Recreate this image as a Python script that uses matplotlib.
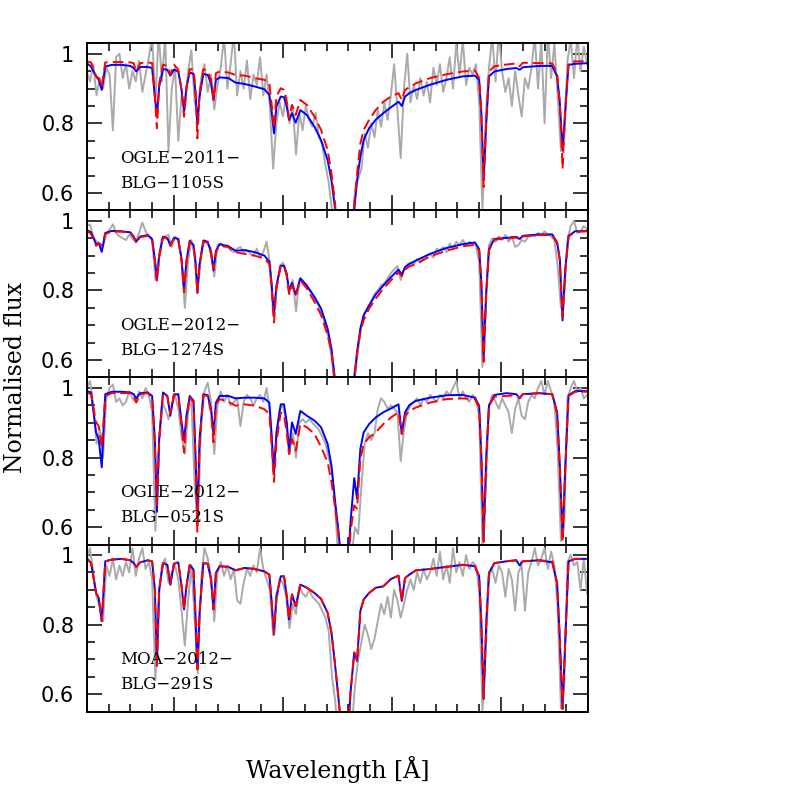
import numpy as np
import matplotlib
matplotlib.use('Agg')
import matplotlib.pyplot as plt
from matplotlib.ticker import MultipleLocator, FixedLocator

# model wavelength grid (Angstrom) shared by all synthetic spectra
MODEL_WL = [6542.0, 6542.4, 6542.86, 6543.1, 6543.38, 6543.7, 6544.3, 6545.2, 6546.0, 6546.3,
            6546.54, 6546.9, 6547.6, 6548.0, 6548.25, 6548.44, 6548.65, 6549.0, 6549.4, 6549.67,
            6550.0, 6550.4, 6550.7, 6550.93, 6551.15, 6551.45, 6551.8, 6551.98, 6552.15, 6552.35,
            6552.7, 6553.1, 6553.4, 6553.63, 6553.85, 6554.2, 6555.0, 6555.65, 6556.5, 6557.4,
            6558.3, 6558.75, 6558.95, 6559.18, 6559.4, 6559.8, 6560.1, 6560.35, 6560.56, 6560.83,
            6561.17, 6561.6, 6562.2, 6562.9, 6563.5, 6564.1, 6564.45, 6564.76, 6565.1, 6565.5,
            6565.9, 6566.2, 6566.54, 6566.8, 6567.1, 6567.4, 6567.9, 6568.5, 6569.2, 6569.9,
            6570.6, 6570.9, 6571.2, 6571.6, 6572.2, 6573.5, 6575.0, 6576.5, 6577.6, 6578.0,
            6578.2, 6578.41, 6578.65, 6578.9, 6579.4, 6580.5, 6581.4, 6581.72, 6582.0, 6583.5,
            6584.7, 6585.15, 6585.4, 6585.65, 6585.9, 6586.2, 6586.8, 6588.0]

# observed spectra sampling
OBS_START = 6542.0
OBS_STEP = 0.3

BLUE_P1 = [0.973, 0.963, 0.935, 0.925, 0.896, 0.963, 0.968, 0.968, 0.965, 0.959,
           0.949, 0.962, 0.962, 0.959, 0.877, 0.819, 0.906, 0.956, 0.954, 0.937,
           0.954, 0.949, 0.896, 0.834, 0.906, 0.946, 0.942, 0.887, 0.795, 0.877,
           0.942, 0.939, 0.915, 0.867, 0.925, 0.932, 0.930, 0.917, 0.913, 0.906,
           0.898, 0.882, 0.838, 0.771, 0.848, 0.877, 0.875, 0.848, 0.810, 0.829,
           0.802, 0.838, 0.824, 0.790, 0.752, 0.694, 0.637, 0.560, 0.45, 0.35,
           0.35, 0.45, 0.55, 0.637, 0.704, 0.752, 0.786, 0.810, 0.829, 0.846,
           0.862, 0.850, 0.877, 0.887, 0.896, 0.911, 0.925, 0.935, 0.937, 0.925,
           0.829, 0.637, 0.800, 0.935, 0.949, 0.956, 0.959, 0.954, 0.961, 0.965,
           0.965, 0.935, 0.858, 0.723, 0.838, 0.968, 0.971, 0.973]
RED_P1 = [0.978, 0.975, 0.935, 0.930, 0.906, 0.975, 0.976, 0.976, 0.975, 0.973,
          0.949, 0.973, 0.975, 0.973, 0.877, 0.786, 0.915, 0.969, 0.964, 0.940,
          0.969, 0.954, 0.896, 0.819, 0.901, 0.956, 0.954, 0.896, 0.757, 0.887,
          0.956, 0.949, 0.925, 0.867, 0.944, 0.949, 0.946, 0.939, 0.937, 0.930,
          0.925, 0.915, 0.858, 0.786, 0.877, 0.901, 0.896, 0.862, 0.814, 0.853,
          0.824, 0.867, 0.853, 0.819, 0.781, 0.723, 0.656, 0.579, 0.45, 0.35,
          0.35, 0.45, 0.569, 0.656, 0.742, 0.781, 0.810, 0.838, 0.862, 0.877,
          0.887, 0.867, 0.896, 0.904, 0.915, 0.930, 0.941, 0.949, 0.952, 0.930,
          0.829, 0.617, 0.810, 0.949, 0.964, 0.969, 0.972, 0.964, 0.974, 0.973,
          0.972, 0.944, 0.858, 0.670, 0.848, 0.973, 0.978, 0.978]
OBS_P1 = [0.95, 0.92, 0.97, 0.88, 0.93, 0.90, 0.96, 0.94, 0.78, 0.99,
          1.00, 0.93, 0.97, 0.90, 0.95, 0.92, 0.98, 0.89, 0.94, 0.99,
          1.05, 0.86, 1.06, 0.92, 1.05, 0.72, 0.90, 0.96, 0.75, 0.88,
          0.84, 0.95, 1.01, 0.86, 0.83, 0.93, 0.97, 0.89, 0.94, 0.84,
          0.91, 0.96, 1.05, 0.90, 0.97, 1.06, 0.88, 0.95, 0.90, 0.98,
          0.87, 0.94, 0.91, 0.99, 0.88, 0.94, 0.85, 0.67, 0.80, 0.86,
          0.82, 0.88, 0.80, 0.85, 0.71, 0.83, 0.78, 0.85, 0.81, 0.79,
          0.83, 0.76, 0.74, 0.68, 0.63, 0.55, 0.47, 0.40, 0.36, 0.35,
          0.38, 0.48, 0.60, 0.64, 0.67, 0.77, 0.73, 0.80, 0.76, 0.84,
          0.79, 0.86, 0.81, 0.88, 0.97, 0.84, 0.70, 0.90, 1.00, 0.86,
          0.91, 0.87, 0.93, 0.88, 0.92, 0.86, 0.96, 0.91, 0.97, 0.89,
          0.93, 0.99, 0.90, 1.03, 0.94, 1.04, 0.91, 0.96, 0.94, 0.97,
          0.86, 0.55, 0.82, 0.96, 1.05, 0.92, 1.06, 0.95, 0.89, 0.93,
          0.85, 0.95, 0.88, 0.82, 0.93, 0.90, 0.96, 1.05, 0.90, 1.04,
          0.80, 1.06, 0.93, 1.03, 0.88, 0.72, 0.74, 0.98, 1.04, 0.93,
          1.05, 0.95, 1.02, 0.97]

BLUE_P2 = [0.974, 0.967, 0.933, 0.936, 0.911, 0.965, 0.971, 0.970, 0.967, 0.955,
           0.940, 0.955, 0.959, 0.948, 0.890, 0.829, 0.900, 0.955, 0.950, 0.930,
           0.951, 0.948, 0.890, 0.800, 0.886, 0.943, 0.930, 0.881, 0.793, 0.876,
           0.943, 0.940, 0.910, 0.857, 0.914, 0.933, 0.927, 0.914, 0.916, 0.910,
           0.900, 0.883, 0.824, 0.729, 0.814, 0.871, 0.871, 0.848, 0.800, 0.822,
           0.788, 0.835, 0.814, 0.781, 0.748, 0.690, 0.633, 0.548, 0.45, 0.35,
           0.35, 0.45, 0.552, 0.624, 0.690, 0.729, 0.757, 0.788, 0.814, 0.838,
           0.860, 0.845, 0.867, 0.876, 0.886, 0.905, 0.922, 0.933, 0.938, 0.919,
           0.824, 0.605, 0.795, 0.919, 0.948, 0.951, 0.954, 0.948, 0.957, 0.961,
           0.961, 0.938, 0.890, 0.714, 0.862, 0.957, 0.970, 0.971]
RED_P2 = [0.972, 0.962, 0.928, 0.935, 0.930, 0.962, 0.969, 0.969, 0.965, 0.953,
          0.937, 0.953, 0.957, 0.946, 0.885, 0.829, 0.896, 0.953, 0.948, 0.928,
          0.949, 0.945, 0.885, 0.795, 0.882, 0.940, 0.927, 0.876, 0.790, 0.872,
          0.940, 0.937, 0.905, 0.862, 0.910, 0.930, 0.924, 0.910, 0.905, 0.900,
          0.892, 0.876, 0.815, 0.708, 0.805, 0.871, 0.868, 0.842, 0.790, 0.815,
          0.786, 0.829, 0.805, 0.767, 0.729, 0.671, 0.624, 0.538, 0.45, 0.35,
          0.35, 0.45, 0.543, 0.619, 0.681, 0.714, 0.748, 0.776, 0.805, 0.829,
          0.852, 0.841, 0.860, 0.869, 0.876, 0.898, 0.914, 0.927, 0.931, 0.915,
          0.820, 0.595, 0.790, 0.915, 0.946, 0.949, 0.952, 0.946, 0.955, 0.959,
          0.959, 0.935, 0.885, 0.724, 0.858, 0.955, 0.968, 0.970]
OBS_P2 = [0.985, 0.99, 0.955, 0.94, 0.935, 0.925, 0.965, 0.975, 0.99, 0.965,
          0.955, 0.95, 0.945, 0.96, 0.95, 0.94, 0.965, 0.995, 0.97, 0.955,
          0.945, 0.83, 0.89, 0.95, 0.955, 0.96, 0.925, 0.955, 0.945, 0.89,
          0.75, 0.885, 0.945, 0.90, 0.81, 0.90, 0.945, 0.935, 0.92, 0.84,
          0.93, 0.935, 0.925, 0.93, 0.915, 0.91, 0.92, 0.925, 0.91, 0.915,
          0.905, 0.90, 0.92, 0.895, 0.91, 0.94, 0.88, 0.73, 0.80, 0.87,
          0.88, 0.85, 0.79, 0.83, 0.74, 0.83, 0.825, 0.815, 0.80, 0.79,
          0.77, 0.755, 0.73, 0.70, 0.66, 0.60, 0.50, 0.40, 0.35, 0.33,
          0.36, 0.45, 0.55, 0.63, 0.70, 0.735, 0.745, 0.77, 0.79, 0.80,
          0.815, 0.82, 0.835, 0.85, 0.86, 0.87, 0.83, 0.86, 0.875, 0.88,
          0.875, 0.89, 0.88, 0.895, 0.90, 0.905, 0.895, 0.92, 0.915, 0.925,
          0.91, 0.935, 0.92, 0.94, 0.93, 0.945, 0.93, 0.94, 0.935, 0.93,
          0.88, 0.58, 0.77, 0.93, 0.95, 0.94, 0.955, 0.945, 0.96, 0.94,
          0.955, 0.925, 0.93, 0.945, 0.94, 0.955, 0.96, 0.955, 0.965, 0.96,
          0.97, 0.96, 0.955, 0.945, 0.87, 0.75, 0.79, 0.945, 0.985, 1.00,
          0.965, 0.97, 0.985, 0.975]

BLUE_P3 = [0.991, 0.987, 0.872, 0.853, 0.772, 0.982, 0.989, 0.989, 0.987, 0.982,
           0.970, 0.985, 0.987, 0.977, 0.853, 0.644, 0.853, 0.987, 0.977, 0.920,
           0.982, 0.982, 0.901, 0.849, 0.920, 0.977, 0.963, 0.806, 0.625, 0.853,
           0.982, 0.979, 0.939, 0.868, 0.958, 0.977, 0.977, 0.970, 0.972, 0.972,
           0.970, 0.958, 0.872, 0.758, 0.872, 0.953, 0.953, 0.901, 0.820, 0.901,
           0.868, 0.934, 0.920, 0.906, 0.887, 0.839, 0.777, 0.682, 0.587, 0.45,
           0.45, 0.615, 0.741, 0.682, 0.825, 0.872, 0.896, 0.915, 0.930, 0.941,
           0.953, 0.868, 0.930, 0.951, 0.963, 0.972, 0.979, 0.980, 0.972, 0.949,
           0.806, 0.568, 0.806, 0.949, 0.980, 0.985, 0.982, 0.970, 0.982, 0.985,
           0.982, 0.930, 0.777, 0.568, 0.777, 0.979, 0.991, 0.991]
RED_P3 = [0.987, 0.982, 0.901, 0.891, 0.830, 0.977, 0.985, 0.985, 0.985, 0.977,
          0.958, 0.982, 0.985, 0.972, 0.844, 0.663, 0.844, 0.985, 0.975, 0.925,
          0.980, 0.979, 0.892, 0.815, 0.910, 0.975, 0.958, 0.796, 0.587, 0.834,
          0.979, 0.977, 0.930, 0.844, 0.953, 0.968, 0.960, 0.949, 0.953, 0.949,
          0.939, 0.925, 0.844, 0.730, 0.844, 0.930, 0.920, 0.872, 0.810, 0.853,
          0.820, 0.896, 0.887, 0.868, 0.830, 0.787, 0.730, 0.663, 0.577, 0.45,
          0.45, 0.587, 0.663, 0.653, 0.796, 0.839, 0.858, 0.872, 0.896, 0.915,
          0.930, 0.868, 0.920, 0.934, 0.944, 0.958, 0.968, 0.970, 0.968, 0.944,
          0.796, 0.558, 0.796, 0.949, 0.975, 0.977, 0.979, 0.972, 0.982, 0.985,
          0.982, 0.925, 0.768, 0.558, 0.768, 0.977, 0.989, 0.989]
OBS_P3 = [1.00, 1.02, 0.95, 0.84, 0.88, 0.80, 0.97, 1.00, 1.01, 0.96,
          0.97, 0.95, 0.96, 0.99, 0.97, 0.96, 0.99, 0.97, 1.00, 0.98,
          0.93, 0.59, 0.84, 0.96, 0.94, 0.91, 0.95, 0.98, 0.94, 0.86,
          0.81, 0.93, 0.97, 0.72, 0.61, 0.90, 0.99, 1.015, 0.96, 0.81,
          0.95, 0.99, 0.96, 0.98, 0.95, 0.96, 0.97, 0.89, 0.96, 0.98,
          0.97, 0.95, 0.97, 0.98, 0.96, 1.00, 0.93, 0.76, 0.85, 0.94,
          0.95, 0.90, 0.81, 0.87, 0.80, 0.90, 0.91, 0.90, 0.91, 0.90,
          0.89, 0.88, 0.86, 0.84, 0.80, 0.76, 0.65, 0.50, 0.42, 0.40,
          0.42, 0.52, 0.60, 0.58, 0.72, 0.84, 0.87, 0.85, 0.87, 0.94,
          0.97, 0.96, 0.94, 0.95, 0.94, 0.93, 0.79, 0.88, 0.93, 0.95,
          0.96, 0.97, 0.95, 0.97, 0.96, 0.98, 0.97, 0.96, 0.98, 0.97,
          0.99, 0.98, 1.00, 1.02, 0.97, 0.99, 0.97, 0.96, 0.98, 0.97,
          0.92, 0.55, 0.70, 0.95, 0.98, 0.96, 0.94, 0.97, 0.95, 0.93,
          0.87, 0.94, 0.97, 0.92, 0.91, 0.96, 0.98, 0.97, 1.00, 1.02,
          0.98, 1.02, 0.99, 0.96, 0.82, 0.56, 0.60, 0.97, 1.00, 1.02,
          0.99, 1.00, 0.97, 0.98]

BLUE_P4 = [0.991, 0.977, 0.891, 0.877, 0.810, 0.982, 0.987, 0.989, 0.985, 0.977,
           0.966, 0.979, 0.985, 0.982, 0.901, 0.682, 0.901, 0.977, 0.972, 0.915,
           0.975, 0.979, 0.910, 0.844, 0.910, 0.972, 0.958, 0.825, 0.672, 0.834,
           0.977, 0.975, 0.930, 0.844, 0.949, 0.968, 0.966, 0.956, 0.963, 0.960,
           0.953, 0.944, 0.872, 0.772, 0.882, 0.939, 0.939, 0.882, 0.815, 0.887,
           0.853, 0.915, 0.906, 0.891, 0.874, 0.834, 0.777, 0.691, 0.587, 0.45,
           0.45, 0.606, 0.720, 0.696, 0.839, 0.872, 0.891, 0.906, 0.910, 0.931,
           0.941, 0.868, 0.934, 0.944, 0.956, 0.960, 0.966, 0.972, 0.968, 0.939,
           0.806, 0.587, 0.806, 0.949, 0.977, 0.982, 0.985, 0.970, 0.982, 0.985,
           0.979, 0.920, 0.758, 0.558, 0.758, 0.982, 0.989, 0.989]
RED_P4 = [0.991, 0.977, 0.891, 0.877, 0.810, 0.982, 0.987, 0.989, 0.985, 0.977,
          0.966, 0.979, 0.985, 0.982, 0.901, 0.682, 0.901, 0.977, 0.972, 0.915,
          0.975, 0.979, 0.910, 0.844, 0.910, 0.972, 0.958, 0.825, 0.672, 0.834,
          0.977, 0.975, 0.930, 0.844, 0.949, 0.968, 0.966, 0.956, 0.963, 0.960,
          0.953, 0.944, 0.872, 0.772, 0.882, 0.939, 0.939, 0.882, 0.815, 0.887,
          0.853, 0.915, 0.906, 0.891, 0.874, 0.834, 0.777, 0.691, 0.587, 0.45,
          0.45, 0.606, 0.720, 0.696, 0.839, 0.872, 0.891, 0.906, 0.910, 0.931,
          0.941, 0.868, 0.934, 0.944, 0.956, 0.960, 0.966, 0.972, 0.968, 0.939,
          0.806, 0.587, 0.806, 0.949, 0.977, 0.982, 0.985, 0.976, 0.982, 0.985,
          0.982, 0.920, 0.758, 0.558, 0.758, 0.982, 0.989, 0.989]
OBS_P4 = [0.99, 1.02, 0.95, 0.88, 0.85, 0.81, 0.97, 0.94, 0.99, 0.93,
          0.97, 0.94, 0.98, 0.95, 1.02, 0.94, 0.99, 1.02, 0.96, 0.98,
          0.93, 0.64, 0.88, 0.97, 0.99, 0.92, 0.95, 0.97, 0.93, 0.84,
          0.74, 0.87, 0.97, 0.82, 0.66, 0.93, 1.02, 0.99, 0.94, 0.81,
          0.95, 0.98, 0.94, 0.97, 0.93, 0.96, 0.87, 0.86, 0.92, 0.96,
          0.94, 0.97, 0.95, 1.02, 0.96, 0.93, 0.90, 0.77, 0.86, 0.93,
          0.92, 0.88, 0.79, 0.86, 0.83, 0.91, 0.89, 0.88, 0.90, 0.88,
          0.87, 0.86, 0.84, 0.82, 0.78, 0.65, 0.58, 0.45, 0.40, 0.38,
          0.42, 0.50, 0.62, 0.70, 0.75, 0.80, 0.77, 0.73, 0.76, 0.81,
          0.86, 0.83, 0.88, 0.82, 0.90, 0.87, 0.82, 0.86, 0.90, 0.93,
          0.90, 0.95, 0.92, 0.96, 0.93, 0.95, 0.99, 0.94, 1.01, 0.93,
          0.97, 0.92, 1.02, 0.95, 0.98, 0.94, 1.00, 0.96, 0.98, 0.97,
          0.90, 0.55, 0.72, 0.94, 0.96, 0.92, 0.97, 0.95, 0.88, 0.96,
          0.93, 0.84, 0.95, 0.97, 0.84, 0.95, 0.98, 1.02, 0.97, 0.99,
          1.02, 0.96, 1.01, 0.97, 0.85, 0.56, 0.62, 0.98, 1.00, 0.97,
          0.98, 0.90, 0.99, 0.89]

NAMES = [('OGLE\u22122011\u2212', 'BLG\u22121105S'),
         ('OGLE\u22122012\u2212', 'BLG\u22121274S'),
         ('OGLE\u22122012\u2212', 'BLG\u22120521S'),
         ('MOA\u22122012\u2212', 'BLG\u2212291S')]
OBS = [OBS_P1, OBS_P2, OBS_P3, OBS_P4]
BLUE = [BLUE_P1, BLUE_P2, BLUE_P3, BLUE_P4]
RED = [RED_P1, RED_P2, RED_P3, RED_P4]

plt.rcParams.update({'font.family': 'DejaVu Serif', 'font.size': 14})
fig = plt.figure(figsize=(7.97, 7.97), dpi=100)

left, right, bottom, top = 0.1088, 0.738, 0.107, 0.9457
h = (top - bottom) / 4

for k in range(4):
    ax = fig.add_axes([left, top - (k + 1) * h, right - left, h])
    obs = OBS[k]
    obs_wl = OBS_START + OBS_STEP * np.arange(len(obs))
    ax.plot(obs_wl, obs, color='#aaaaaa', lw=1.4)
    ax.plot(MODEL_WL, BLUE[k], color='#0000ff', lw=1.4)
    red_line, = ax.plot(MODEL_WL, RED[k], color='#ff0000', lw=1.4)
    red_line.set_dashes([5.5, 2.6])

    ax.set_xlim(6542, 6588)
    ax.set_ylim(0.55, 1.03)
    ax.xaxis.set_major_locator(MultipleLocator(10))
    ax.xaxis.set_minor_locator(MultipleLocator(2))
    ax.yaxis.set_major_locator(FixedLocator([0.6, 0.8, 1.0]))
    ax.yaxis.set_minor_locator(MultipleLocator(0.05))
    ax.set_yticklabels(['0.6', '0.8', '1'], family='DejaVu Sans', fontsize=15)
    ax.tick_params(which='both', direction='in', top=True, right=True,
                   labelbottom=False, width=1.1)
    ax.tick_params(which='major', length=10.5, pad=9)
    ax.tick_params(which='minor', length=5.5)
    for sp in ax.spines.values():
        sp.set_linewidth(1.4)

    ax.text(0.066, 0.284, NAMES[k][0], transform=ax.transAxes, fontsize=12, va='baseline')
    ax.text(0.066, 0.134, NAMES[k][1], transform=ax.transAxes, fontsize=12, va='baseline')

fig.text(0.02, (bottom + top) / 2, 'Normalised flux', rotation=90, ha='center', va='center', fontsize=17)
fig.text((left + right) / 2, 0.034, 'Wavelength [\u00c5]', ha='center', va='center', fontsize=17)

plt.savefig('out.png', dpi=100)
